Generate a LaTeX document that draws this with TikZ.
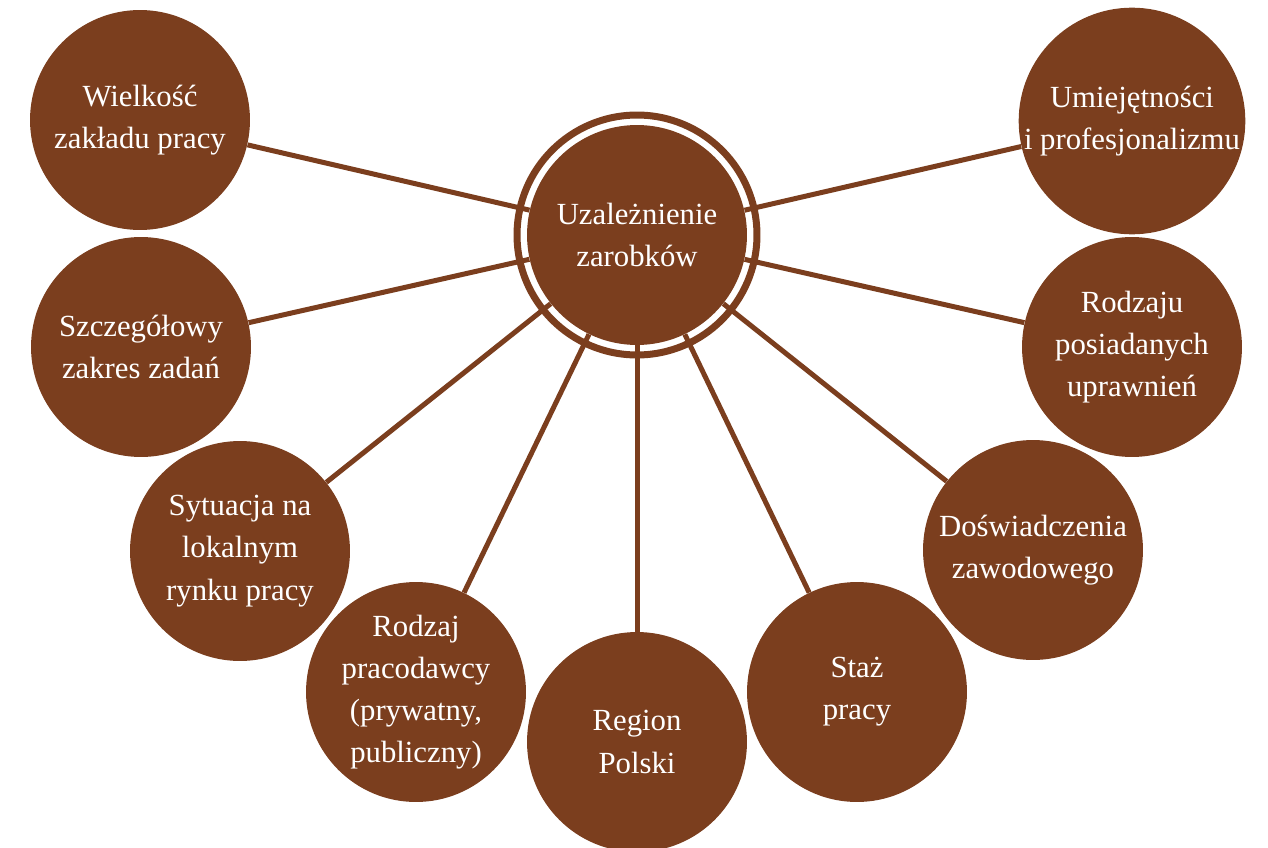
\documentclass[tikz,border=0pt]{standalone}
\usepackage{fontspec}
\setmainfont{Liberation Serif}
\usetikzlibrary{backgrounds}
\definecolor{braz}{RGB}{123,62,30}

\begin{document}
\begin{tikzpicture}[x=0.02cm,y=-0.02cm,
    bubble/.style={circle, fill=braz, text=white, minimum size=4.4cm, inner sep=0pt,
        align=center, font=\fontsize{17.5}{24}\selectfont},
    link/.style={draw=braz, line width=0.1cm}]
    \useasboundingbox (0,0) rectangle (1268,848);

    \node[bubble] (zarobki) at (637,235) {Uzależnienie\\zarobków};
    \node[circle, draw=braz, line width=0.14cm, minimum size=4.8cm] (pierscien) at (637,235) {};

    \node[bubble] (wielkosc) at (140,120) {Wielkość\\zakładu pracy};
    \node[bubble] (zadania) at (141,347) {Szczegółowy\\zakres zadań};
    \node[bubble] (sytuacja) at (240,551) {Sytuacja na\\lokalnym\\rynku pracy};
    \node[bubble] (pracodawca) at (416,692) {Rodzaj\\pracodawcy\\(prywatny,\\publiczny)};
    \node[bubble] (region) at (637,742) {Region\\Polski};
    \node[bubble] (staz) at (857,692) {Staż\\pracy};
    \node[bubble] (doswiadczenie) at (1033,550) {Doświadczenia\\zawodowego};
    \node[bubble] (uprawnienia) at (1132,347) {Rodzaju\\posiadanych\\uprawnień};
    \node[bubble] (umiejetnosci) at (1132,121) {Umiejętności\\i profesjonalizmu};

    \begin{scope}[on background layer]
    \foreach \n in {wielkosc,zadania,sytuacja,pracodawca,region,staz,doswiadczenie,uprawnienia,umiejetnosci} {
    \draw[link] (zarobki) -- (\n);
    }
    \end{scope}

\end{tikzpicture}
\end{document}
